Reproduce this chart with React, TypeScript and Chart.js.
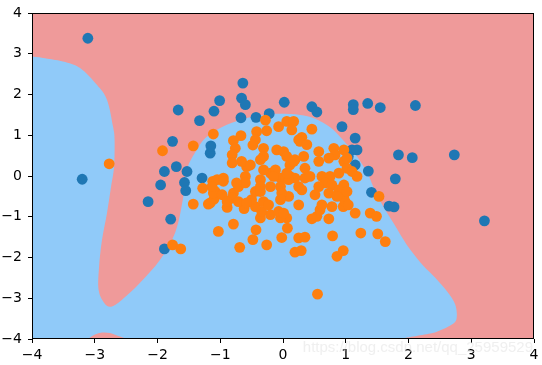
import { useEffect, useRef } from "react";
import { Chart, registerables } from "chart.js";

Chart.register(...registerables);

const blueX = [-3.11, -3.2, -2.15, -1.76, -1.89, -1.95, -1.7, -1.79, -1.89, -1.67, -1.53, -1.57, -1.55, -1.29, -1.16, -1.15, -1.01, -0.64, -0.66, -0.6, -1.1, -1.33, -0.67, -0.43, -0.22, 0.02, 0.46, 0.54, 0.94, 1.12, 1.12, 1.35, 1.55, 2.11, 1.15, 1.1, 1.18, 1.04, 1.15, 1.36, 1.41, 1.69, 1.77, 1.84, 2.06, 2.73, 3.21, 1.79];
const blueY = [3.38, -0.08, -0.63, 0.85, 0.11, -0.22, 0.23, -1.06, -1.79, 1.62, 0.11, -0.16, -0.36, -0.05, 0.56, 0.74, 1.85, 2.28, 1.91, 1.75, 1.59, 1.36, 1.43, 1.44, 1.53, 1.81, 1.7, 1.57, 1.21, 1.75, 1.63, 1.78, 1.68, 1.73, 0.93, 0.64, 0.64, 0.48, 0.27, 0.12, -0.4, -0.74, -0.76, 0.52, 0.45, 0.52, -1.1, -0.07];

const orangeX = [-2.77, -1.92, -1.76, -1.63, -1.43, -1.43, -1.28, -1.19, -1.12, -1.08, -1.1, -1.03, -1.11, -1.05, -0.95, -1.16, -0.89, -0.79, -0.69, -0.48, -0.43, -0.26, -0.02, 0.07, 0.25, 0.35, 0.19, 0.29, 0.55, 0.79, 1.24, 1.51, 1.63, 0.96, 0.86, 1.53, 1.39, 1.49, 1.15, 0.96, 0.78, 0.73, 0.54, 0.46, 0.59, 0.25, 0.06, -0.04, -0.2, -0.07, -0.36, -0.34, -0.44, -0.62, 0.01, -0.31, -0.5, -0.44, -0.79, -0.81, -0.71, -0.6, -0.6, -0.36, -0.36, -0.2, -0.12, -0.04, 0.04, 0.11, 0.25, 0.35, -0.2, -0.04, -0.58, -0.31, -1.11, -0.67, -0.79, -0.42, -0.26, -0.44, -0.48, -0.31, -0.76, -0.81, -0.28, -0.07, 0.06, 0.17, 0.14, 0.46, 0.25, 0.3, 0.27, 0.38, -0.1, 0.01, 0.06, -0.31, -0.66, -0.81, -0.52, 0.11, 0.19, 0.33, 0.57, 0.81, 0.83, 0.73, 0.57, 0.97, 1.02, 1.1, 1.18, 0.17, 0.35, 0.43, 0.19, 0.09, 0.3, 0.62, 0.75, 0.67, 0.57, 0.78, 0.97, 0.89, 0.73, 0.51, 0.97, 0.99, 0.09, 0.62, 1.04, -0.36, 0.06, -0.15, -0.95, -1.13, -0.97, -0.89, -0.71, -0.58, -0.36, -0.23, -0.02, -0.04, -0.74, 0.97, 1.02, 0.89, 0.86, 1.02];
const orangeY = [0.3, 0.62, -1.69, -1.79, 0.74, -0.69, -0.3, -0.69, -0.13, -0.38, -0.57, -1.36, 1.03, -0.09, -0.05, -0.66, -0.77, -1.18, -1.75, -1.56, -1.32, -1.69, -1.51, -1.28, -1.52, -1.5, -1.87, -1.83, -2.9, -1.47, -1.4, -1.42, -1.61, -1.83, -1.97, -0.5, -0.91, -0.99, -0.91, -0.75, -0.75, -1.05, -0.99, -1.05, -0.83, -0.71, -1.03, -1.03, -0.95, -0.87, -1.03, -0.87, -0.75, -0.8, -0.91, -0.63, -0.58, -0.38, -0.42, -0.54, -0.26, -0.01, -0.17, -0.09, -0.26, 0.07, 0.15, -0.05, -0.05, -0.01, -0.26, -0.05, -0.26, -0.26, 0.23, 0.15, -0.42, 0.99, 0.87, 1.09, 1.11, 0.89, 0.76, 0.68, 0.68, 0.52, 1.37, 1.21, 1.34, 1.34, 1.13, 1.15, 0.89, 0.95, 0.85, 0.77, 0.64, 0.6, 0.48, 0.48, 0.36, 0.32, 0.27, 0.27, 0.4, 0.48, 0.6, 0.68, 0.52, 0.44, 0.36, 0.36, 0.19, 0.11, -0.01, 0.36, 0.19, -0.01, -0.05, -0.09, -0.34, -0.01, -0.01, -0.17, -0.26, -0.22, -0.22, -0.34, -0.42, -0.46, -0.54, -0.63, -0.5, -0.71, -0.71, 0.4, 0.07, -0.01, -0.13, -0.26, -0.46, -0.63, -0.63, -0.66, -0.38, -0.71, -0.42, -0.58, -0.17, 0.64, 0.44, 0.07, -0.5, -0.38];

// boundary of the light-blue decision region (class of the orange points)
const regionX = [-4, -3.825, -3.506, -3.234, -2.963, -2.804, -2.708, -2.684, -2.692, -2.74, -2.804, -2.884, -2.931, -2.939, -2.852, -2.74, -2.565, -2.278, -1.959, -1.719, -1.597, -1.533, -1.373, -1.214, -0.895, -0.576, -0.316, -0.045, 0.274, 0.482, 0.641, 0.801, 1.024, 1.183, 1.343, 1.439, 1.582, 1.758, 1.901, 2.029, 2.236, 2.427, 2.619, 2.746, 2.762, 2.635, 2.459, 2.348, 2.077, 1.85, -2.485, -2.597, -2.756, -2.884, -2.996, -3.107, -4];
const regionY = [2.93, 2.897, 2.811, 2.652, 2.235, 1.868, 1.206, 0.887, 0.225, -0.265, -0.902, -1.564, -2.225, -2.789, -3.108, -3.206, -3.034, -2.618, -2.054, -1.392, -0.583, 0.152, 0.642, 0.961, 1.255, 1.426, 1.5, 1.525, 1.5, 1.426, 1.304, 1.132, 0.765, 0.471, 0.078, -0.265, -0.706, -1.147, -1.515, -1.809, -2.201, -2.495, -2.838, -3.157, -3.525, -3.696, -3.819, -3.868, -3.941, -4, -4, -3.941, -3.855, -3.843, -3.892, -4, -4];

const tickValues = [-4, -3, -2, -1, 0, 1, 2, 3, 4];
const watermark = "https://blog.csdn.net/qq_25959529";

const fmt = (v: number) => (v < 0 ? "\u2212" + Math.abs(v) : String(v));
const onEdge = (x: number, y: number) => Math.abs(x) >= 4 || Math.abs(y) >= 4;

export default function App() {
  const ref = useRef<HTMLCanvasElement>(null);
  useEffect(() => {
    document.body.style.margin = "0";
    const canvas = ref.current;
    if (!canvas) return;
    const pts = (xs: number[], ys: number[]) => xs.map((x, i) => ({ x, y: ys[i] }));

    const regionPlugin = {
      id: "region",
      beforeDatasetsDraw(chart: any) {
        const { ctx, chartArea: a, scales } = chart;
        ctx.save();
        ctx.beginPath();
        ctx.rect(a.left, a.top, a.right - a.left, a.bottom - a.top);
        ctx.clip();
        ctx.fillStyle = "#EF9A9A";
        ctx.fillRect(a.left, a.top, a.right - a.left, a.bottom - a.top);
        const n = regionX.length;
        const P = regionX.map((x, i) => ({
          x: scales.x.getPixelForValue(x),
          y: scales.y.getPixelForValue(regionY[i]),
          e: onEdge(x, regionY[i]),
        }));
        ctx.beginPath();
        ctx.moveTo(P[0].x, P[0].y);
        for (let i = 0; i < n; i++) {
          const p1 = P[i];
          const p2 = P[(i + 1) % n];
          if (p1.e && p2.e) {
            ctx.lineTo(p2.x, p2.y);
            continue;
          }
          let p0 = P[(i - 1 + n) % n];
          let p3 = P[(i + 2) % n];
          if (p0.e && p1.e) p0 = p1;
          if (p2.e && p3.e) p3 = p2;
          const t = 1 / 6;
          const c1x = p1.x + (p2.x - p0.x) * t;
          const c1y = p1.y + (p2.y - p0.y) * t;
          const c2x = p2.x - (p3.x - p1.x) * t;
          const c2y = p2.y - (p3.y - p1.y) * t;
          ctx.bezierCurveTo(c1x, c1y, c2x, c2y, p2.x, p2.y);
        }
        ctx.closePath();
        ctx.fillStyle = "#90CAF9";
        ctx.fill();
        ctx.restore();
      },
      afterDatasetsDraw(chart: any) {
        const { ctx, chartArea: a } = chart;
        ctx.save();
        ctx.strokeStyle = "#000";
        ctx.lineWidth = 1;
        ctx.strokeRect(Math.round(a.left) + 0.5, Math.round(a.top) + 0.5, Math.round(a.right - a.left) - 1, Math.round(a.bottom - a.top) - 1);
        ctx.restore();
      },
      afterDraw(chart: any) {
        const { ctx } = chart;
        ctx.save();
        ctx.font = "15px 'Liberation Sans', Arial, sans-serif";
        ctx.fillStyle = "rgba(225,225,225,0.55)";
        ctx.textAlign = "right";
        ctx.textBaseline = "alphabetic";
        ctx.fillText(watermark, 533, 352);
        ctx.restore();
      },
    };

    const axisCommon = {
      type: "linear" as const,
      min: -4,
      max: 4,
      afterBuildTicks: (scale: any) => {
        scale.ticks = tickValues.map((v) => ({ value: v }));
      },
      grid: { display: true, drawOnChartArea: false, drawTicks: true, tickLength: 4, color: "#000", lineWidth: 1 },
      border: { display: false },
    };

    const chart = new Chart(canvas, {
      type: "scatter",
      data: {
        datasets: [
          {
            label: "1",
            data: pts(orangeX, orangeY),
            backgroundColor: "#ff7f0e",
            borderWidth: 0,
            pointRadius: 5.4,
            order: 1,
          },
          {
            label: "0",
            data: pts(blueX, blueY),
            backgroundColor: "#1f77b4",
            borderWidth: 0,
            pointRadius: 5.4,
            order: 2,
          },
        ],
      },
      options: {
        responsive: false,
        animation: false,
        devicePixelRatio: 1,
        layout: { autoPadding: false, padding: { top: 13, right: 8, left: 0, bottom: 0 } },
        plugins: { legend: { display: false }, tooltip: { enabled: false } },
        scales: {
          x: {
            ...axisCommon,
            position: "bottom",
            afterFit: (scale: any) => {
              scale.height = 26;
              scale.paddingLeft = 0;
              scale.paddingRight = 0;
            },
            ticks: {
              color: "#000",
              padding: 4,
              maxRotation: 0,
              font: { family: "'DejaVu Sans'", size: 14 },
              callback: (v: any) => fmt(Number(v)),
            },
          },
          y: {
            ...axisCommon,
            position: "left",
            afterFit: (scale: any) => {
              scale.width = 32;
              scale.paddingTop = 0;
              scale.paddingBottom = 0;
            },
            ticks: {
              color: "#000",
              padding: 6,
              font: { family: "'DejaVu Sans'", size: 14 },
              callback: (v: any) => fmt(Number(v)),
            },
          },
        },
      },
      plugins: [regionPlugin],
    });
    return () => chart.destroy();
  }, []);
  return <canvas ref={ref} width={542} height={365} style={{ display: "block" }} />;
}
